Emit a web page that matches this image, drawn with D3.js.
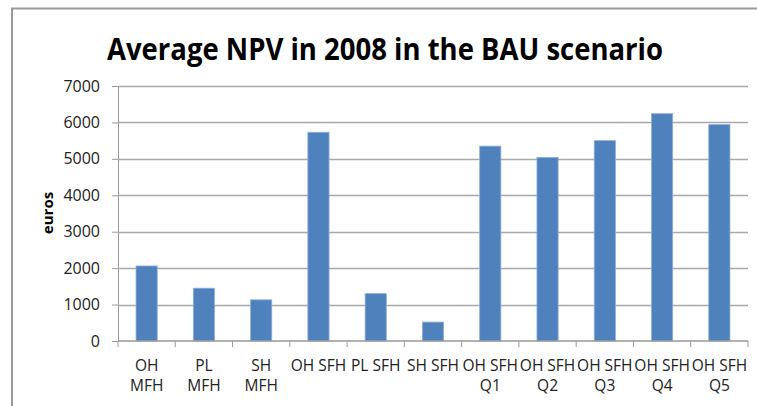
<!DOCTYPE html>
<html>
<head>
<meta charset="utf-8">
<script src="https://cdn.jsdelivr.net/npm/d3@7"></script>
<style>
  body { margin: 0; background: #fff; }
  svg { display: block; }
  text { font-family: "Open Sans", "DejaVu Sans", sans-serif; fill: #222; }
</style>
</head>
<body>
<div id="chart"></div>
<script>
var categories = ["OH MFH", "PL MFH", "SH MFH", "OH SFH", "PL SFH", "SH SFH",
    "OH SFH Q1", "OH SFH Q2", "OH SFH Q3", "OH SFH Q4", "OH SFH Q5"];
var tickLabels = [["OH", "MFH"], ["PL", "MFH"], ["SH", "MFH"], ["OH SFH"], ["PL SFH"], ["SH SFH"],
    ["OH SFH", "Q1"], ["OH SFH", "Q2"], ["OH SFH", "Q3"], ["OH SFH", "Q4"], ["OH SFH", "Q5"]];
var npvValues = [2060, 1450, 1130, 5730, 1300, 520, 5350, 5040, 5500, 6240, 5940];
var yTicks = [0, 1000, 2000, 3000, 4000, 5000, 6000, 7000];

var width = 757, height = 406;
var margin = {top: 86, right: 9, bottom: 65, left: 118};
var innerW = width - margin.left - margin.right;
var innerH = height - margin.top - margin.bottom;

var svg = d3.select("#chart").append("svg")
    .attr("width", width)
    .attr("height", height);

// outer frame (only top and left visible in picture)
svg.append("path")
    .attr("d", "M12," + height + "V8.5H" + width)
    .attr("fill", "none")
    .attr("stroke", "#9a9a9a")
    .attr("stroke-width", 2);

svg.append("text")
    .attr("x", 385)
    .attr("y", 60)
    .attr("text-anchor", "middle")
    .attr("textLength", 556)
    .attr("lengthAdjust", "spacingAndGlyphs")
    .style("font-size", "31px")
    .style("font-weight", "bold")
    .style("fill", "#000")
    .text("Average NPV in 2008 in the BAU scenario");

var chart = svg.append("g")
    .attr("transform", "translate(" + margin.left + "," + margin.top + ")");

var x = d3.scaleBand()
    .domain(categories)
    .range([0, innerW])
    .paddingInner(0.63)
    .paddingOuter(0.315);

var y = d3.scaleLinear()
    .domain([0, 7000])
    .range([innerH, 0]);

// gridlines + y axis
var yAxis = chart.append("g")
    .attr("class", "axis")
    .call(d3.axisLeft(y).tickValues(yTicks).tickSize(6).tickPadding(12).tickFormat(d3.format("d")));
yAxis.select(".domain").attr("stroke", "#999");
yAxis.selectAll(".tick line").attr("stroke", "#999");
yAxis.selectAll(".tick text").style("font-size", "16px").style("fill", "#222");

chart.append("g")
    .selectAll("line")
    .data(yTicks.filter(function(d) { return d > 0; }))
    .enter().append("line")
    .attr("x1", 0)
    .attr("x2", innerW)
    .attr("y1", function(d) { return Math.round(y(d)) + 0.5; })
    .attr("y2", function(d) { return Math.round(y(d)) + 0.5; })
    .attr("stroke", "#a8a8a8")
    .attr("stroke-width", 1.3);

// bars
chart.selectAll(".bar")
    .data(npvValues)
    .enter().append("rect")
    .attr("class", "bar")
    .attr("x", function(d, i) { return x(categories[i]); })
    .attr("width", x.bandwidth())
    .attr("y", function(d) { return y(d); })
    .attr("height", function(d) { return innerH - y(d); })
    .attr("fill", "#4f81bd")
    .attr("stroke", "#8eaedb")
    .attr("stroke-width", 0.8);

// x axis line and boundary ticks
var xAxis = chart.append("g")
    .attr("transform", "translate(0," + innerH + ")");
xAxis.append("line")
    .attr("x1", 0).attr("x2", innerW)
    .attr("stroke", "#999").attr("stroke-width", 1.3);
xAxis.selectAll(".xtick")
    .data(d3.range(categories.length + 1))
    .enter().append("line")
    .attr("class", "xtick")
    .attr("x1", function(i) { return i * x.step(); })
    .attr("x2", function(i) { return i * x.step(); })
    .attr("y1", 0).attr("y2", 6)
    .attr("stroke", "#999");

var labels = xAxis.selectAll(".xlabel")
    .data(categories)
    .enter().append("text")
    .attr("class", "xlabel")
    .attr("text-anchor", "middle")
    .attr("transform", function(d) { return "translate(" + (x(d) + x.bandwidth() / 2) + ",30)"; })
    .style("font-size", "15.5px");
labels.selectAll("tspan")
    .data(function(d, i) { return tickLabels[i]; })
    .enter().append("tspan")
    .attr("x", 0)
    .attr("dy", function(d, j) { return j === 0 ? 0 : 20; })
    .text(function(d) { return d; });

// y label
svg.append("text")
    .attr("transform", "translate(53,213) rotate(-90)")
    .attr("text-anchor", "middle")
    .style("font-size", "15px")
    .style("font-weight", "bold")
    .style("fill", "#000")
    .text("euros");
</script>
</body>
</html>
